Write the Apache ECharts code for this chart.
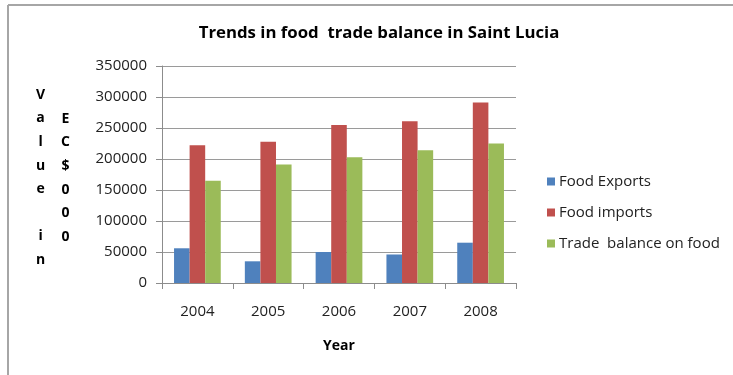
<!DOCTYPE html>
<html>
<head>
<meta charset="utf-8">
<script src="https://cdn.jsdelivr.net/npm/echarts@6/dist/echarts.min.js"></script>
<style>
  html, body { margin: 0; padding: 0; background: #fff; }
  #chart { width: 733px; height: 375px; }
</style>
</head>
<body>
<div id="chart"></div>
<script>
// Categories and series values (EC$000)
const years = ['2004', '2005', '2006', '2007', '2008'];
const foodExports = [56000, 35000, 50000, 46000, 65000];
const foodImports = [222000, 228000, 255000, 261000, 291000];
const tradeBalance = [165000, 191000, 203000, 214000, 225000];
const yTicks = { min: 0, max: 350000, interval: 50000 };

const seriesNames = ['Food Exports', 'Food imports', 'Trade  balance on food'];
const seriesColors = ['#4F81BD', '#C0504D', '#9BBB59'];
const seriesData = [foodExports, foodImports, tradeBalance];

// Stacked-letter axis title: two columns of characters
const colA = ['V', 'a', 'l', 'u', 'e', '', 'i', 'n'];
const colB = ['E', 'C', '$', '0', '0', '0'];

const FONT = '"Open Sans", sans-serif';
const chart = echarts.init(document.getElementById('chart'), null, { renderer: 'canvas' });

chart.setOption({
  backgroundColor: '#fff',
  animation: false,
  title: {
    text: 'Trends in food  trade balance in Saint Lucia',
    left: 374, top: 20, textAlign: 'center',
    textStyle: { fontFamily: FONT, fontSize: 16.8, fontWeight: 'bold', color: '#000' }
  },
  legend: {
    orient: 'vertical',
    left: 542, top: 169,
    itemWidth: 8, itemHeight: 8, itemGap: 16,
    icon: 'rect',
    textStyle: { fontFamily: FONT, fontSize: 15, color: '#222', padding: [0, 0, 0, -1] },
    data: seriesNames
  },
  grid: { left: 162, right: 217, top: 66, height: 217, containLabel: false },
  xAxis: {
    type: 'category',
    data: years,
    name: 'Year',
    nameLocation: 'middle',
    nameGap: 56,
    nameTextStyle: { fontFamily: FONT, fontSize: 14, fontWeight: 'bold', color: '#000' },
    axisLine: { lineStyle: { color: '#8c8c8c', width: 1 } },
    axisTick: { show: true, length: 6, lineStyle: { color: '#8c8c8c' } },
    axisLabel: { fontFamily: FONT, fontSize: 15, color: '#222', margin: 21 }
  },
  yAxis: {
    type: 'value',
    min: yTicks.min, max: yTicks.max, interval: yTicks.interval,
    axisLine: { show: true, lineStyle: { color: '#8c8c8c', width: 1 } },
    axisTick: { show: true, length: 6, lineStyle: { color: '#8c8c8c' } },
    axisLabel: { fontFamily: FONT, fontSize: 15, color: '#222', margin: 15,
                 formatter: v => String(v) },
    splitLine: { lineStyle: { color: '#9a9a9a', width: 1 } }
  },
  series: seriesNames.map((name, i) => ({
    name: name,
    type: 'bar',
    data: seriesData[i],
    barGap: '0%',
    barCategoryGap: '34%',
    itemStyle: { color: seriesColors[i] }
  })),
  graphic: [
    // chart area border (top and left edges)
    { type: 'line', shape: { x1: 8, y1: 5, x2: 733, y2: 5 }, style: { stroke: '#a6a6a6', lineWidth: 2 } },
    { type: 'line', shape: { x1: 8, y1: 5, x2: 8, y2: 375 }, style: { stroke: '#a6a6a6', lineWidth: 2 } },
    {
      type: 'text', left: 36, top: 83,
      style: { text: colA.join('\n'), fontFamily: FONT, fontSize: 14, fontWeight: 'bold',
               lineHeight: 23.6, fill: '#000', textAlign: 'center' }
    },
    {
      type: 'text', left: 61, top: 107,
      style: { text: colB.join('\n'), fontFamily: FONT, fontSize: 14, fontWeight: 'bold',
               lineHeight: 23.6, fill: '#000', textAlign: 'center' }
    }
  ]
});
</script>
</body>
</html>
